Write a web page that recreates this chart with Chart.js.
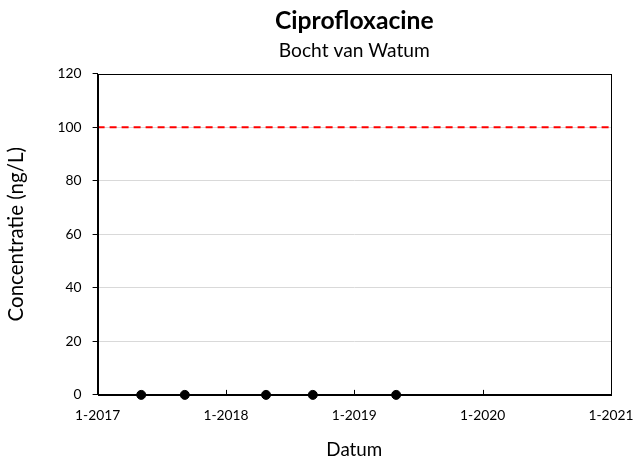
<!DOCTYPE html>
<html>
<head>
<meta charset="utf-8">
<script src="https://cdn.jsdelivr.net/npm/chart.js@4/dist/chart.umd.min.js"></script>
<style>
html,body{margin:0;padding:0;background:#fff;}
#wrap{width:638px;height:463px;}
</style>
</head>
<body>
<div id="wrap"><canvas id="c" width="638" height="463"></canvas></div>
<script>
const title = 'Ciprofloxacine';
const subtitle = 'Bocht van Watum';
const xAxisTitle = 'Datum';
const yAxisTitle = 'Concentratie (ng/L)';
const sampleDates = ['2017-05-05', '2017-09-06', '2018-04-25', '2018-09-05', '2019-04-30'];
const concentrations = [0, 0, 0, 0, 0];
const normYears = [2017, 2021];
const normValues = [100, 100];
const xTickYears = [2017, 2018, 2019, 2020, 2021];
const yTicks = [0, 20, 40, 60, 80, 100, 120];

function toYear(s) {
  const d = new Date(s + 'T00:00:00Z');
  const y = d.getUTCFullYear();
  const start = Date.UTC(y, 0, 1), end = Date.UTC(y + 1, 0, 1);
  return y + (d.getTime() - start) / (end - start);
}

const FAMILY = 'Lato, "Open Sans", sans-serif';
const mctx = document.createElement('canvas').getContext('2d');
function fitSize(text, weight, target) {
  mctx.font = weight + ' 100px ' + FAMILY;
  const w = mctx.measureText(text).width;
  return Math.round(100 * target / w * 10) / 10;
}
const titleSize = fitSize(title, 'bold', 159);
const subSize = fitSize(subtitle, 'normal', 151);
const tickSize = fitSize('1-2017', 'normal', 45);
const yTitleSize = fitSize(yAxisTitle, 'normal', 174);
const xTitleSize = fitSize(xAxisTitle, 'normal', 56);

const boxPlugin = {
  id: 'box',
  afterDraw(chart) {
    const {ctx, chartArea: a, scales} = chart;
    ctx.save();
    ctx.strokeStyle = '#000';
    ctx.lineWidth = 1;
    ctx.strokeRect(Math.round(a.left) + 0.5, Math.round(a.top) + 0.5, Math.round(a.right - a.left), Math.round(a.bottom - a.top));
    const xs = scales.x;
    xTickYears.forEach(v => {
      const px = Math.round(xs.getPixelForValue(v)) + 0.5;
      ctx.beginPath();
      ctx.moveTo(px, a.bottom);
      ctx.lineTo(px, a.bottom - 5);
      ctx.stroke();
    });
    ctx.restore();
  }
};

new Chart(document.getElementById('c'), {
  type: 'scatter',
  data: {
    datasets: [
      {
        label: 'Norm',
        type: 'line',
        data: normYears.map((x, i) => ({x, y: normValues[i]})),
        borderColor: '#ff0000',
        borderWidth: 2,
        borderDash: [7, 5],
        pointRadius: 0,
        fill: false,
        order: 2
      },
      {
        label: 'Ciprofloxacine',
        data: sampleDates.map((d, i) => ({x: toYear(d), y: concentrations[i]})),
        backgroundColor: '#000',
        borderColor: '#000',
        pointRadius: 4.5,
        pointHoverRadius: 4.5,
        clip: false,
        order: 1
      }
    ]
  },
  options: {
    responsive: false,
    animation: false,
    layout: {padding: {left: 0, right: 27, top: 0, bottom: 2}},
    plugins: {
      legend: {display: false},
      tooltip: {enabled: false},
      title: {display: true, fullSize: false, text: title, color: '#000', font: {family: FAMILY, size: titleSize, weight: 'bold'}, padding: {top: 6, bottom: 0}},
      subtitle: {display: true, fullSize: false, text: subtitle, color: '#000', font: {family: FAMILY, size: subSize}, padding: {top: 4, bottom: 11}}
    },
    scales: {
      x: {
        type: 'linear',
        min: 2017, max: 2021,
        afterBuildTicks(scale) { scale.ticks = xTickYears.map(v => ({value: v})); },
        afterFit(scale) { scale.paddingRight = 0; scale.paddingLeft = 0; },
        grid: {display: false, drawTicks: false},
        border: {display: true, color: '#000', width: 1},
        ticks: {color: '#000', font: {family: FAMILY, size: tickSize}, padding: 12, maxRotation: 0, callback: v => '1-' + v},
        title: {display: true, text: xAxisTitle, color: '#000', font: {family: FAMILY, size: xTitleSize}, padding: {top: 3, bottom: 0}}
      },
      y: {
        min: 0, max: 120,
        afterBuildTicks(scale) { scale.ticks = yTicks.map(v => ({value: v})); },
        grid: {color: ctx => (ctx.tick && (ctx.tick.value === 0 || ctx.tick.value === 120)) ? 'rgba(0,0,0,0)' : '#d9d9d9', tickColor: '#000', tickLength: 5, lineWidth: 1},
        border: {display: true, color: '#000', width: 1},
        ticks: {color: '#000', font: {family: FAMILY, size: tickSize}, padding: 11},
        title: {display: true, text: yAxisTitle, color: '#000', font: {family: FAMILY, size: yTitleSize}, padding: {top: 4, bottom: 18}}
      }
    }
  },
  plugins: [boxPlugin]
});
</script>
</body>
</html>
